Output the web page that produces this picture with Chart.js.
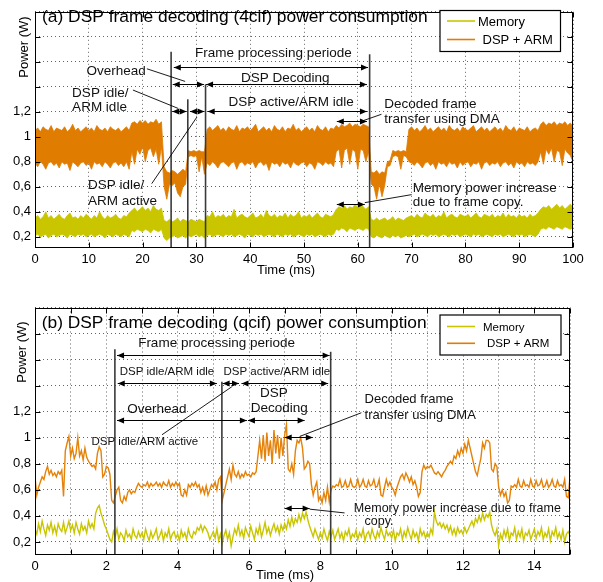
<!DOCTYPE html>
<html>
<head>
<meta charset="utf-8">
<script src="https://cdn.jsdelivr.net/npm/chart.js@4.4.1/dist/chart.umd.min.js"></script>
<style>
  body { margin: 0; background: #fff; width: 603px; height: 582px; position: relative; overflow: hidden; }
  canvas { position: absolute; left: 0; }
  #chartA { top: 0; }
  #chartB { top: 290px; }
</style>
</head>
<body>
<canvas id="chartA" width="603" height="290"></canvas>
<canvas id="chartB" width="603" height="292"></canvas>
<script>
// ---- data ----
const seriesNames = ['Memory', 'DSP + ARM'];
const yTicks = [0.2, 0.4, 0.6, 0.8, 1.0, 1.2, 1.4, 1.6, 1.8, 2.0];

// (a) 4cif: trace is too dense to follow, so it is kept as upper / lower envelope every 0.5 ms
const aSampleMs = 0.5;
const aXTicks = [0, 10, 20, 30, 40, 50, 60, 70, 80, 90, 100];
const aDspHi = [
  1.05,1.07,1.04,1.08,1.06,1.05,1.09,1.04,1.07,1.06,
  1.05,1.08,1.04,1.06,1.10,1.05,1.07,1.04,1.06,1.08,
  1.05,1.07,1.04,1.09,1.06,1.05,1.07,1.04,1.08,1.06,
  1.05,1.07,1.04,1.06,1.08,1.05,1.11,1.12,1.10,1.13,
  1.11,1.13,1.10,1.12,1.11,1.14,1.10,1.12,0.76,0.72,
  0.71,0.73,0.72,0.70,0.72,0.74,0.72,0.89,0.88,0.89,
  0.88,0.89,0.88,0.88,1.06,1.08,1.05,1.07,1.09,1.05,
  1.07,1.04,1.08,1.06,1.05,1.09,1.04,1.07,1.06,1.08,
  1.05,1.07,1.10,1.04,1.06,1.08,1.05,1.07,1.04,1.09,
  1.06,1.05,1.08,1.04,1.07,1.06,1.10,1.05,1.07,1.04,
  1.06,1.08,1.05,1.07,1.04,1.09,1.06,1.05,1.08,1.04,
  1.07,1.06,1.09,1.07,1.10,1.08,1.09,1.11,1.08,1.10,
  1.09,1.08,1.10,1.09,1.08,0.72,0.71,0.73,0.70,0.72,
  0.71,0.80,0.81,0.89,0.88,0.89,0.88,0.89,0.88,1.06,
  1.08,1.05,1.07,1.04,1.06,1.09,1.05,1.07,1.04,1.06,
  1.08,1.05,1.07,1.04,1.09,1.06,1.05,1.07,1.04,1.08,
  1.06,1.05,1.07,1.09,1.04,1.06,1.08,1.05,1.07,1.04,
  1.06,1.08,1.05,1.07,1.04,1.09,1.06,1.05,1.08,1.04,
  1.07,1.06,1.05,1.08,1.04,1.06,1.07,1.05,1.10,1.12,
  1.09,1.11,1.10,1.12,1.09,1.11,1.10,1.12,1.09,1.11,
  1.08
];
const aDspLo = [
  0.79,0.76,0.80,0.78,0.74,0.79,0.80,0.77,0.79,0.75,
  0.80,0.78,0.79,0.73,0.80,0.78,0.76,0.79,0.80,0.77,
  0.79,0.74,0.80,0.78,0.79,0.76,0.80,0.78,0.75,0.79,
  0.80,0.77,0.79,0.76,0.80,0.74,0.88,0.78,0.90,0.86,
  0.92,0.80,0.89,0.91,0.84,0.90,0.78,0.92,0.60,0.50,
  0.62,0.61,0.63,0.55,0.52,0.60,0.62,0.84,0.85,0.84,
  0.85,0.72,0.84,0.70,0.79,0.77,0.80,0.78,0.75,0.79,
  0.80,0.78,0.76,0.79,0.80,0.74,0.79,0.80,0.77,0.79,
  0.78,0.80,0.75,0.79,0.80,0.77,0.79,0.73,0.80,0.78,
  0.79,0.76,0.80,0.78,0.79,0.75,0.80,0.78,0.77,0.79,
  0.80,0.76,0.79,0.78,0.74,0.80,0.79,0.77,0.80,0.78,
  0.79,0.76,0.88,0.90,0.75,0.89,0.91,0.78,0.90,0.88,
  0.74,0.90,0.89,0.80,0.88,0.62,0.60,0.50,0.62,0.52,
  0.61,0.76,0.77,0.84,0.85,0.84,0.74,0.85,0.84,0.80,
  0.79,0.77,0.80,0.78,0.75,0.79,0.80,0.77,0.79,0.74,
  0.80,0.78,0.79,0.76,0.80,0.78,0.79,0.75,0.80,0.77,
  0.79,0.80,0.76,0.79,0.78,0.80,0.74,0.79,0.80,0.77,
  0.79,0.78,0.80,0.76,0.79,0.80,0.77,0.79,0.75,0.80,
  0.78,0.79,0.76,0.80,0.78,0.79,0.77,0.80,0.88,0.78,
  0.90,0.86,0.91,0.80,0.89,0.88,0.77,0.90,0.87,0.85,
  0.80
];
const aMemHi = [
  0.35,0.37,0.34,0.36,0.40,0.35,0.37,0.34,0.36,0.38,
  0.35,0.34,0.37,0.39,0.35,0.36,0.34,0.37,0.35,0.38,
  0.36,0.34,0.37,0.35,0.40,0.36,0.34,0.37,0.35,0.36,
  0.38,0.35,0.34,0.37,0.36,0.39,0.41,0.43,0.40,0.42,
  0.44,0.41,0.43,0.40,0.45,0.42,0.41,0.43,0.33,0.32,
  0.34,0.32,0.33,0.35,0.32,0.34,0.33,0.32,0.34,0.33,
  0.32,0.34,0.33,0.32,0.37,0.36,0.40,0.35,0.37,0.36,
  0.38,0.35,0.37,0.36,0.42,0.35,0.37,0.38,0.36,0.35,
  0.37,0.39,0.35,0.36,0.38,0.35,0.41,0.37,0.36,0.38,
  0.35,0.37,0.36,0.39,0.35,0.38,0.36,0.37,0.40,0.35,
  0.37,0.36,0.38,0.35,0.37,0.39,0.36,0.35,0.38,0.37,
  0.36,0.38,0.42,0.44,0.43,0.45,0.42,0.44,0.43,0.46,
  0.43,0.45,0.44,0.42,0.44,0.34,0.33,0.35,0.33,0.34,
  0.35,0.33,0.34,0.36,0.33,0.35,0.34,0.33,0.35,0.36,
  0.37,0.35,0.38,0.36,0.35,0.39,0.37,0.36,0.38,0.35,
  0.37,0.36,0.40,0.35,0.37,0.38,0.36,0.35,0.38,0.37,
  0.36,0.38,0.35,0.37,0.39,0.36,0.35,0.38,0.37,0.36,
  0.38,0.35,0.37,0.36,0.39,0.35,0.38,0.36,0.37,0.35,
  0.38,0.36,0.37,0.35,0.38,0.36,0.37,0.39,0.42,0.44,
  0.43,0.45,0.42,0.44,0.46,0.43,0.45,0.42,0.44,0.46,
  0.44
];
const aMemLo = [
  0.21,0.22,0.20,0.21,0.22,0.19,0.21,0.22,0.20,0.21,
  0.22,0.21,0.19,0.22,0.21,0.20,0.22,0.21,0.22,0.20,
  0.21,0.22,0.20,0.21,0.22,0.21,0.19,0.22,0.21,0.20,
  0.22,0.21,0.20,0.22,0.21,0.20,0.25,0.24,0.26,0.25,
  0.24,0.26,0.25,0.23,0.26,0.25,0.24,0.26,0.19,0.17,
  0.19,0.20,0.21,0.19,0.20,0.21,0.19,0.21,0.20,0.21,
  0.22,0.20,0.21,0.19,0.21,0.22,0.20,0.21,0.22,0.21,
  0.20,0.22,0.21,0.22,0.20,0.21,0.22,0.21,0.19,0.22,
  0.21,0.20,0.22,0.21,0.22,0.20,0.21,0.22,0.21,0.20,
  0.22,0.21,0.20,0.22,0.21,0.22,0.20,0.21,0.22,0.21,
  0.20,0.22,0.21,0.22,0.20,0.21,0.22,0.21,0.20,0.22,
  0.21,0.22,0.26,0.25,0.27,0.26,0.24,0.27,0.26,0.25,
  0.27,0.26,0.25,0.27,0.26,0.20,0.19,0.21,0.20,0.19,
  0.21,0.20,0.19,0.21,0.20,0.21,0.19,0.20,0.21,0.20,
  0.21,0.22,0.20,0.21,0.22,0.21,0.20,0.22,0.21,0.22,
  0.20,0.21,0.22,0.21,0.20,0.22,0.21,0.22,0.20,0.21,
  0.22,0.21,0.20,0.22,0.21,0.22,0.20,0.21,0.22,0.21,
  0.20,0.22,0.21,0.22,0.20,0.21,0.22,0.21,0.20,0.22,
  0.21,0.22,0.20,0.21,0.22,0.21,0.20,0.22,0.26,0.27,
  0.26,0.28,0.27,0.26,0.28,0.27,0.26,0.28,0.27,0.26,
  0.27
];

// (b) qcif: one sample every 0.05 ms
const bSampleMs = 0.05;
const bXTicks = [0, 1, 2, 3, 4, 5, 6, 7, 8, 9, 10, 11, 12, 13, 14, 15];
const bDsp = [
  0.70,0.56,0.62,0.66,0.70,0.68,0.74,0.78,0.72,0.75,0.71,0.73,0.70,0.74,0.72,0.75,0.55,0.90,0.96,1.01,
  0.86,0.92,0.84,0.88,1.00,0.86,0.90,0.83,0.92,0.85,0.82,0.80,0.78,0.79,0.76,0.88,0.93,0.90,0.70,0.72,
  0.78,0.77,0.72,0.52,0.50,0.55,0.60,0.62,0.52,0.50,0.55,0.52,0.58,0.60,0.57,0.59,0.58,0.62,0.65,0.63,
  0.62,0.64,0.63,0.66,0.62,0.65,0.63,0.64,0.66,0.63,0.65,0.62,0.66,0.64,0.63,0.67,0.62,0.65,0.63,0.66,
  0.63,0.65,0.56,0.55,0.60,0.56,0.64,0.62,0.65,0.63,0.66,0.62,0.64,0.58,0.62,0.57,0.63,0.56,0.60,0.64,
  0.62,0.66,0.60,0.68,0.70,0.52,0.58,0.64,0.70,0.76,0.68,0.79,0.72,0.70,0.74,0.69,0.72,0.70,0.74,0.71,
  0.72,0.70,0.73,0.72,0.74,0.86,0.98,0.84,1.02,0.82,1.04,0.86,0.98,0.80,1.06,0.88,1.02,0.84,1.00,0.86,
  1.02,1.10,0.76,0.74,0.80,0.72,0.90,0.98,0.96,1.00,0.92,0.76,0.78,0.82,0.80,0.64,0.56,0.62,0.66,0.52,
  0.55,0.50,0.58,0.52,0.62,0.51,0.60,0.63,0.62,0.64,0.63,0.68,0.62,0.63,0.67,0.62,0.63,0.68,0.63,0.62,
  0.63,0.68,0.62,0.64,0.68,0.63,0.62,0.67,0.63,0.64,0.68,0.62,0.63,0.68,0.56,0.55,0.62,0.68,0.63,0.66,
  0.62,0.60,0.56,0.62,0.66,0.70,0.72,0.68,0.73,0.70,0.66,0.70,0.64,0.67,0.62,0.55,0.58,0.74,0.79,0.76,
  0.78,0.77,0.79,0.76,0.73,0.72,0.74,0.72,0.70,0.73,0.75,0.78,0.80,0.82,0.80,0.86,0.84,0.90,0.86,0.92,
  0.88,0.95,0.90,0.98,0.92,0.86,0.80,0.74,0.71,0.78,0.84,0.96,0.92,0.98,0.98,0.96,0.76,0.74,0.80,0.78,
  0.62,0.56,0.60,0.55,0.58,0.50,0.52,0.63,0.62,0.64,0.62,0.68,0.63,0.62,0.67,0.63,0.64,0.62,0.68,0.63,
  0.62,0.67,0.63,0.64,0.68,0.62,0.63,0.67,0.62,0.64,0.68,0.63,0.62,0.67,0.63,0.64,0.62,0.68,0.55,0.54,
  0.70
];
const bMem = [
  0.30,0.26,0.34,0.28,0.36,0.30,0.25,0.33,0.29,0.35,0.27,0.32,0.26,0.34,0.30,0.28,0.35,0.27,0.31,0.36,
  0.29,0.33,0.27,0.35,0.30,0.26,0.34,0.29,0.32,0.27,0.36,0.31,0.34,0.30,0.42,0.46,0.48,0.42,0.38,0.33,
  0.30,0.26,0.22,0.20,0.28,0.24,0.30,0.22,0.27,0.25,0.21,0.29,0.24,0.26,0.22,0.30,0.25,0.23,0.28,0.24,
  0.27,0.22,0.30,0.25,0.21,0.28,0.23,0.26,0.30,0.22,0.25,0.29,0.21,0.27,0.24,0.30,0.22,0.26,0.28,0.23,
  0.26,0.21,0.29,0.24,0.27,0.22,0.30,0.25,0.23,0.28,0.26,0.31,0.29,0.33,0.28,0.32,0.30,0.27,0.22,0.25,
  0.28,0.23,0.30,0.21,0.26,0.19,0.25,0.29,0.22,0.27,0.17,0.24,0.30,0.26,0.33,0.25,0.29,0.23,0.31,0.27,
  0.24,0.32,0.27,0.22,0.30,0.26,0.33,0.24,0.29,0.35,0.27,0.31,0.25,0.30,0.34,0.28,0.32,0.26,0.33,0.29,
  0.34,0.30,0.37,0.32,0.39,0.33,0.38,0.35,0.41,0.36,0.42,0.38,0.43,0.37,0.32,0.28,0.24,0.30,0.26,0.22,
  0.27,0.23,0.30,0.25,0.21,0.28,0.24,0.29,0.22,0.26,0.30,0.23,0.27,0.21,0.28,0.25,0.30,0.22,0.26,0.24,
  0.29,0.22,0.27,0.24,0.30,0.21,0.26,0.28,0.23,0.30,0.25,0.22,0.28,0.24,0.31,0.26,0.22,0.29,0.25,0.27,
  0.23,0.29,0.21,0.27,0.25,0.30,0.22,0.28,0.24,0.31,0.26,0.22,0.29,0.24,0.27,0.21,0.30,0.25,0.28,0.23,
  0.27,0.24,0.30,0.26,0.43,0.36,0.33,0.35,0.31,0.34,0.30,0.33,0.28,0.32,0.26,0.30,0.25,0.31,0.27,0.29,
  0.26,0.31,0.27,0.30,0.33,0.36,0.32,0.38,0.35,0.40,0.36,0.42,0.37,0.41,0.39,0.43,0.33,0.28,0.25,0.30,
  0.17,0.26,0.22,0.29,0.24,0.30,0.21,0.27,0.25,0.31,0.22,0.28,0.24,0.30,0.21,0.27,0.25,0.29,0.22,0.26,
  0.30,0.23,0.28,0.25,0.31,0.22,0.27,0.24,0.30,0.21,0.28,0.25,0.31,0.23,0.27,0.22,0.29,0.20,0.26,0.28,
  0.25
];

// ---- annotations, in data units (ms, W) ----
const aMarkers = [{ t: 25.3, top: 1.68 }, { t: 28.4, top: 1.30 }, { t: 31.7, top: 1.42 }, { t: 62.2, top: 1.66 }];
const aArrows = [
  { from: 25.8, to: 61.9, v: 1.56 },
  { from: 25.6, to: 31.4, v: 1.42 },
  { from: 31.8, to: 61.7, v: 1.42 },
  { from: 25.5, to: 28.2, v: 1.206 },
  { from: 28.8, to: 31.5, v: 1.206 },
  { from: 32.1, to: 61.7, v: 1.206 },
  { from: 56.1, to: 61.7, v: 1.127 },
  { from: 56.1, to: 61.3, v: 0.463 }
];
const aNotes = [
  { text: 'Frame processing periode', t: 44.3, v: 1.667, align: 'center' },
  { text: 'DSP Decoding', t: 46.5, v: 1.469, align: 'center' },
  { text: 'DSP active/ARM idle', t: 47.6, v: 1.276, align: 'center' },
  { text: 'Overhead', t: 15.1, v: 1.528, align: 'center' },
  { text: 'DSP idle/', t: 6.9, v: 1.35, align: 'left' },
  { text: 'ARM idle', t: 6.9, v: 1.235, align: 'left' },
  { text: 'DSP idle/', t: 9.85, v: 0.609, align: 'left' },
  { text: 'ARM active', t: 9.85, v: 0.486, align: 'left' },
  { text: 'Decoded frame', t: 64.9, v: 1.258, align: 'left' },
  { text: 'transfer using DMA', t: 64.9, v: 1.142, align: 'left' },
  { text: 'Memory power increase', t: 70.2, v: 0.588, align: 'left' },
  { text: 'due to frame copy.', t: 70.2, v: 0.473, align: 'left' }
];
const aLeaders = [
  { t1: 20.8, v1: 1.544, t2: 27.9, v2: 1.443 },
  { t1: 18.2, v1: 1.374, t2: 26.6, v2: 1.227 },
  { t1: 21.7, v1: 0.625, t2: 30.1, v2: 1.158 },
  { t1: 64.4, v1: 1.18, t2: 61.0, v2: 1.129 },
  { t1: 70.0, v1: 0.537, t2: 61.3, v2: 0.473 }
];

const bMarkers = [{ t: 2.24, top: 1.68 }, { t: 5.24, top: 1.43 }, { t: 8.29, top: 1.66 }];
const bArrows = [
  { from: 2.30, to: 8.26, v: 1.638 },
  { from: 2.32, to: 5.10, v: 1.423 },
  { from: 5.26, to: 5.72, v: 1.423 },
  { from: 5.79, to: 8.22, v: 1.423 },
  { from: 2.30, to: 5.94, v: 1.138 },
  { from: 5.97, to: 7.56, v: 1.138 },
  { from: 7.0, to: 7.79, v: 1.008 },
  { from: 7.0, to: 7.70, v: 0.462 }
];
const bNotes = [
  { text: 'Frame processing periode', t: 5.09, v: 1.723, align: 'center', size: 13.5 },
  { text: 'DSP idle/ARM idle', t: 3.70, v: 1.505, align: 'center', size: 11.5 },
  { text: 'DSP active/ARM idle', t: 6.78, v: 1.505, align: 'center', size: 11.5 },
  { text: 'Overhead', t: 3.42, v: 1.215, align: 'center', size: 13.5 },
  { text: 'DSP', t: 6.70, v: 1.344, align: 'center', size: 13.5 },
  { text: 'Decoding', t: 6.85, v: 1.223, align: 'center', size: 13.5 },
  { text: 'DSP idle/ARM active', t: 3.08, v: 0.97, align: 'center', size: 11.5 },
  { text: 'Decoded frame', t: 9.24, v: 1.292, align: 'left', size: 13 },
  { text: 'transfer using DMA', t: 9.24, v: 1.169, align: 'left', size: 13 },
  { text: 'Memory power increase due to frame', t: 8.94, v: 0.454, align: 'left', size: 12.5 },
  { text: 'copy.', t: 9.24, v: 0.356, align: 'left', size: 12.5 }
];
const bLeaders = [
  { t1: 3.56, v1: 1.023, t2: 5.52, v2: 1.392 },
  { t1: 9.15, v1: 1.192, t2: 7.42, v2: 1.01 },
  { t1: 8.68, v1: 0.423, t2: 7.70, v2: 0.452 }
];

// ---- styling ----
const FONT = '"Liberation Sans", Arial, Helvetica, sans-serif';
const MEM_COLOR = '#c9c600';
const DSP_COLOR = '#e07c00';

function commaLabel(v) {
  if (v > 1.21) return '';
  if (Math.abs(v - 1) < 1e-6) return '1';
  return v.toFixed(1).replace('.', ',');
}

function toPoints(values, step) {
  return values.map((v, i) => ({ x: +(i * step).toFixed(3), y: v }));
}

function arrowHead(ctx, xTip, y, dir) {
  ctx.beginPath();
  ctx.moveTo(xTip, y);
  ctx.lineTo(xTip - dir * 7, y - 3);
  ctx.lineTo(xTip - dir * 7, y + 3);
  ctx.closePath();
  ctx.fill();
}

// frame, inward ticks, notes and legend drawn like the original figure
function paperPlugin(cfg) {
  return {
    id: 'paper',
    afterDraw(chart) {
      const { ctx, chartArea: ca, scales: { x, y } } = chart;
      const X = t => x.getPixelForValue(t);
      const Y = v => y.getPixelForValue(v);
      ctx.save();
      ctx.setLineDash([]);

      // vertical phase markers
      ctx.strokeStyle = '#3a3a3a';
      ctx.lineWidth = 1.6;
      cfg.markers.forEach(m => {
        ctx.beginPath();
        ctx.moveTo(X(m.t), Y(m.top));
        ctx.lineTo(X(m.t), ca.bottom);
        ctx.stroke();
      });

      // double arrows
      ctx.strokeStyle = '#000';
      ctx.fillStyle = '#000';
      ctx.lineWidth = 1;
      cfg.arrows.forEach(a => {
        const x1 = X(a.from), x2 = X(a.to), yy = Math.round(Y(a.v)) + 0.5;
        ctx.beginPath();
        ctx.moveTo(x1, yy);
        ctx.lineTo(x2, yy);
        ctx.stroke();
        arrowHead(ctx, x1, yy, -1);
        arrowHead(ctx, x2, yy, 1);
      });

      // leader lines
      ctx.lineWidth = 0.9;
      cfg.leaders.forEach(l => {
        ctx.beginPath();
        ctx.moveTo(X(l.t1), Y(l.v1));
        ctx.lineTo(X(l.t2), Y(l.v2));
        ctx.stroke();
      });

      // notes
      ctx.fillStyle = '#111';
      ctx.textBaseline = 'middle';
      cfg.notes.forEach(n => {
        ctx.font = (n.size || cfg.noteSize) + 'px ' + FONT;
        ctx.textAlign = n.align;
        ctx.fillText(n.text, X(n.t), Y(n.v));
      });

      // frame with inward ticks
      const L = Math.round(ca.left) + 0.5, R = Math.round(ca.right) - 0.5;
      const T = Math.round(ca.top) + 0.5, B = Math.round(ca.bottom) - 0.5;
      ctx.strokeStyle = '#000';
      ctx.lineWidth = 1;
      ctx.strokeRect(L, T, R - L, B - T);
      ctx.beginPath();
      x.ticks.forEach(tk => {
        const px = Math.round(X(tk.value)) + 0.5;
        ctx.moveTo(px, B); ctx.lineTo(px, B - 5);
        ctx.moveTo(px, T); ctx.lineTo(px, T + 5);
      });
      y.ticks.forEach(tk => {
        const py = Math.round(Y(tk.value)) + 0.5;
        ctx.moveTo(L, py); ctx.lineTo(L + 5, py);
        ctx.moveTo(R, py); ctx.lineTo(R - 5, py);
      });
      ctx.stroke();

      // title, fitted to the width it has in the figure
      ctx.font = '17px ' + FONT;
      const size = 17 * cfg.title.width / ctx.measureText(cfg.title.text).width;
      ctx.font = size + 'px ' + FONT;
      ctx.textAlign = 'left';
      ctx.fillStyle = '#000';
      ctx.fillText(cfg.title.text, cfg.title.x, cfg.title.y);

      // axis titles
      ctx.font = '13px ' + FONT;
      ctx.textAlign = 'center';
      ctx.fillText('Time (ms)', cfg.xTitle.x, cfg.xTitle.y);
      ctx.save();
      ctx.translate(cfg.yTitle.x, cfg.yTitle.y);
      ctx.rotate(-Math.PI / 2);
      ctx.fillText('Power (W)', 0, 0);
      ctx.restore();

      // legend box
      const lg = cfg.legend;
      ctx.fillStyle = '#fff';
      ctx.fillRect(lg.x, lg.y, lg.w, lg.h);
      ctx.strokeStyle = '#000';
      ctx.lineWidth = 1.2;
      ctx.strokeRect(lg.x, lg.y, lg.w, lg.h);
      ctx.font = lg.size + 'px ' + FONT;
      ctx.textAlign = 'left';
      lg.rows.forEach((r, i) => {
        ctx.strokeStyle = [MEM_COLOR, DSP_COLOR][i];
        ctx.lineWidth = 1.6;
        ctx.beginPath();
        ctx.moveTo(lg.lx1, r.y);
        ctx.lineTo(lg.lx2, r.y);
        ctx.stroke();
        ctx.fillStyle = '#000';
        ctx.fillText(seriesNames[i], r.tx, r.y + 1);
      });
      ctx.restore();
    }
  };
}

function baseOptions(xMax, yMin, xTicks, xLabel, padding, xHeight) {
  return {
    responsive: false,
    animation: false,
    layout: { padding },
    plugins: { legend: { display: false }, tooltip: { enabled: false } },
    elements: { point: { radius: 0 }, line: { tension: 0 } },
    scales: {
      x: {
        type: 'linear', min: 0, max: xMax,
        afterBuildTicks: s => { s.ticks = xTicks.map(v => ({ value: v })); },
        afterFit: s => { s.height = xHeight; },
        ticks: { callback: xLabel, autoSkip: false, maxRotation: 0, padding: 4, color: '#000', font: { family: FONT, size: 13 } },
        grid: { color: 'rgba(0,0,0,0.6)', lineWidth: 1, drawTicks: false },
        border: { display: false, dash: [1, 3] }
      },
      y: {
        type: 'linear', min: yMin, max: 2.0,
        afterBuildTicks: s => { s.ticks = yTicks.map(v => ({ value: v })); },
        afterFit: s => { s.width = 35; },
        ticks: { callback: v => commaLabel(v), autoSkip: false, padding: 4, color: '#000', font: { family: FONT, size: 13 } },
        grid: { color: 'rgba(0,0,0,0.6)', lineWidth: 1, drawTicks: false },
        border: { display: false, dash: [1, 3] }
      }
    }
  };
}

// ---- (a) 4cif ----
new Chart(document.getElementById('chartA'), {
  type: 'line',
  data: {
    datasets: [
      { label: seriesNames[0], data: toPoints(aMemHi, aSampleMs), borderColor: MEM_COLOR, backgroundColor: MEM_COLOR, borderWidth: 0.8, fill: '+1' },
      { label: seriesNames[0], data: toPoints(aMemLo, aSampleMs), borderColor: MEM_COLOR, borderWidth: 0.8, fill: false },
      { label: seriesNames[1], data: toPoints(aDspHi, aSampleMs), borderColor: DSP_COLOR, backgroundColor: DSP_COLOR, borderWidth: 0.8, fill: '+1' },
      { label: seriesNames[1], data: toPoints(aDspLo, aSampleMs), borderColor: DSP_COLOR, borderWidth: 0.8, fill: false }
    ]
  },
  options: baseOptions(100, 0.11, aXTicks, v => String(v), { top: 3, right: 30, left: 0, bottom: 0 }, 42),
  plugins: [paperPlugin({
    markers: aMarkers, arrows: aArrows, notes: aNotes, leaders: aLeaders, noteSize: 13.5,
    title: { text: '(a) DSP frame decoding (4cif) power consumption', x: 42, y: 17, width: 386 },
    xTitle: { x: 286, y: 270 },
    yTitle: { x: 24, y: 47 },
    legend: { x: 440, y: 10.5, w: 120.5, h: 41, size: 13, lx1: 447, lx2: 475,
              rows: [{ y: 21, tx: 478 }, { y: 39.5, tx: 482.5 }] }
  })]
});

// ---- (b) qcif ----
new Chart(document.getElementById('chartB'), {
  type: 'line',
  data: {
    datasets: [
      { label: seriesNames[0], data: toPoints(bMem, bSampleMs), borderColor: MEM_COLOR, borderWidth: 1.4, fill: false },
      { label: seriesNames[1], data: toPoints(bDsp, bSampleMs), borderColor: '#e4820a', borderWidth: 1.4, fill: false }
    ]
  },
  options: baseOptions(15, 0.1, bXTicks, v => (v % 2 === 0 ? String(v) : ''), { top: 17.5, right: 33, left: 0, bottom: 0 }, 27),
  plugins: [paperPlugin({
    markers: bMarkers, arrows: bArrows, notes: bNotes, leaders: bLeaders, noteSize: 13,
    title: { text: '(b) DSP frame decoding (qcif) power consumption', x: 41.7, y: 33, width: 385 },
    xTitle: { x: 285, y: 285 },
    yTitle: { x: 22.5, y: 62 },
    legend: { x: 440, y: 25, w: 121, h: 40, size: 11.5, lx1: 447, lx2: 475,
              rows: [{ y: 36.5, tx: 483 }, { y: 53.3, tx: 487 }] }
  })]
});
</script>
</body>
</html>
